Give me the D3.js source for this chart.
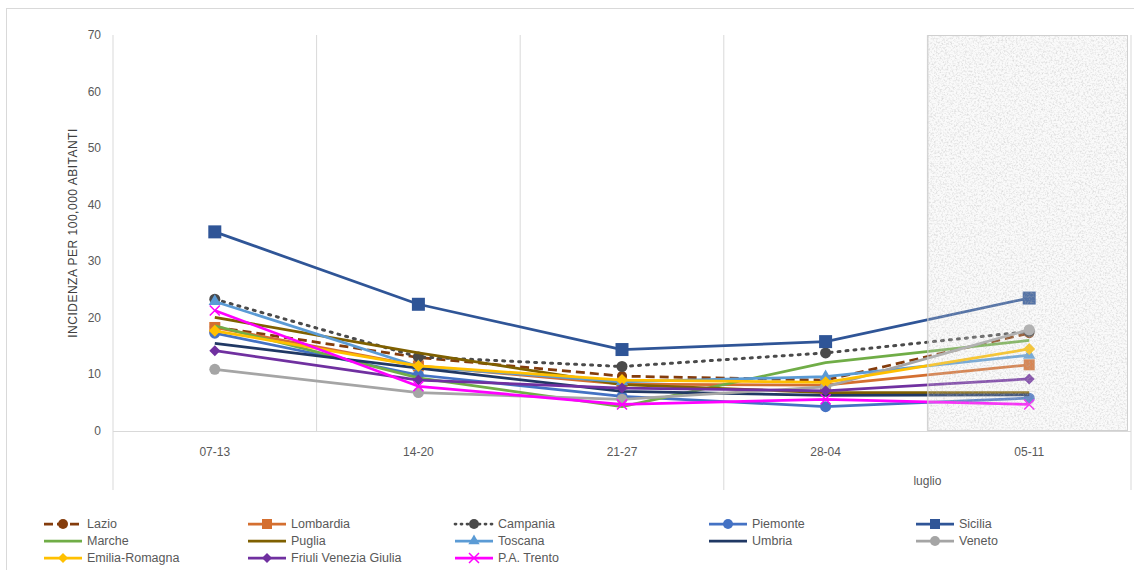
<!DOCTYPE html>
<html><head><meta charset="utf-8">
<script src="https://cdn.jsdelivr.net/npm/d3@7"></script>
<style>html,body{margin:0;padding:0;background:#fff;}svg{display:block;font-family:"Liberation Sans",Arial,sans-serif;}</style>
</head><body>
<svg id="c" width="1134" height="570"></svg>
<script>
const categories = ["07-13","14-20","21-27","28-04","05-11"];
const yTicks = [0,10,20,30,40,50,60,70];
const groupLabel = "luglio";
const yTitle = "INCIDENZA  PER 100,000 ABITANTI";

const regions = ["Lazio","Lombardia","Campania","Piemonte","Sicilia","Marche","Puglia","Toscana","Umbria","Veneto","Emilia-Romagna","Friuli Venezia Giulia","P.A. Trento"];
const lazio      = [18.4, 13.0, 9.7, 9.0, 17.3];
const lombardia  = [18.3, 11.5, 8.3, 8.1, 11.7];
const campania   = [23.3, 13.1, 11.4, 13.8, 17.6];
const piemonte   = [17.3, 9.9, 6.1, 4.3, 5.8];
const sicilia    = [35.2, 22.4, 14.4, 15.8, 23.5];
const marche     = [18.6, 9.4, 4.3, 12.1, 16.0];
const puglia     = [20.1, 13.8, 8.2, 6.8, 6.8];
const toscana    = [22.9, 11.4, 8.7, 9.6, 13.4];
const umbria     = [15.5, 11.1, 7.0, 6.3, 6.4];
const veneto     = [10.9, 6.8, 5.6, 7.8, 17.9];
const emilia     = [17.7, 11.5, 9.0, 8.6, 14.5];
const friuli     = [14.2, 9.0, 7.6, 7.1, 9.2];
const trento     = [21.3, 7.9, 4.7, 5.6, 4.7];
const seriesValues = [lazio,lombardia,campania,piemonte,sicilia,marche,puglia,toscana,umbria,veneto,emilia,friuli,trento];

const styles = {
  "Lazio":{c:"#843c0c",dash:"9,5",m:"circle",s:10},
  "Lombardia":{c:"#d46f30",m:"square",s:11},
  "Campania":{c:"#4a4a4a",dash:"2,6",cap:"round",m:"circle",s:11},
  "Piemonte":{c:"#4472c4",m:"circle",s:11},
  "Sicilia":{c:"#2f5597",m:"square",s:13},
  "Marche":{c:"#70ad47",m:null},
  "Puglia":{c:"#7f6000",m:null},
  "Toscana":{c:"#5b9bd5",m:"triangle",s:11},
  "Umbria":{c:"#203864",m:null},
  "Veneto":{c:"#a5a5a5",m:"circle",s:11},
  "Emilia-Romagna":{c:"#ffc000",m:"diamond",s:12},
  "Friuli Venezia Giulia":{c:"#7030a0",m:"diamond",s:11},
  "P.A. Trento":{c:"#ff00ff",m:"x",s:10}
};

const svg = d3.select("#c");
const L=113, R=1131, T=35, B=431;
const x = d3.scaleBand().domain(categories).range([L,R]).padding(0);
const y = d3.scaleLinear().domain([0,70]).range([B,T]);
const cx = c => x(c)+x.bandwidth()/2;

// outer border
svg.append("rect").attr("x",6.5).attr("y",8.5).attr("width",1140).attr("height",580).attr("fill","none").attr("stroke","#d9d9d9");

// defs: noise texture
const defs = svg.append("defs");
const f = defs.append("filter").attr("id","noise").attr("x",0).attr("y",0).attr("width","100%").attr("height","100%");
f.append("feTurbulence").attr("type","fractalNoise").attr("baseFrequency",0.55).attr("numOctaves",3).attr("seed",7).attr("result","t");
f.append("feColorMatrix").attr("in","t").attr("type","matrix")
 .attr("values","0 0 0 0 0.45  0 0 0 0 0.45  0 0 0 0 0.45  2.2 0 0 0 -0.95").attr("result","n");
f.append("feComposite").attr("in","n").attr("in2","SourceGraphic").attr("operator","in");

// vertical gridlines (category boundaries)
const bounds = categories.slice(1).map(c=>x(c));
svg.append("g").selectAll("line").data(bounds).join("line")
  .attr("x1",d=>d).attr("x2",d=>d).attr("y1",T).attr("y2",B)
  .attr("stroke","#d9d9d9").attr("stroke-width",1);
// axis left line
svg.append("line").attr("x1",L).attr("x2",L).attr("y1",T).attr("y2",490).attr("stroke","#d9d9d9");
// divider for group and right border
svg.append("line").attr("x1",x("28-04")).attr("x2",x("28-04")).attr("y1",B).attr("y2",490).attr("stroke","#d9d9d9");
svg.append("line").attr("x1",R).attr("x2",R).attr("y1",T).attr("y2",490).attr("stroke","#d9d9d9");
svg.append("line").attr("x1",L).attr("x2",R).attr("y1",B+0.5).attr("y2",B+0.5).attr("stroke","#d9d9d9");

// y tick labels
svg.append("g").selectAll("text").data(yTicks).join("text")
  .attr("x",101).attr("y",d=>y(d)+4).attr("text-anchor","end")
  .attr("font-size",12).attr("fill","#595959").text(d=>d);
// y title
svg.append("text").attr("transform",`translate(77,${(T+B)/2}) rotate(-90)`)
  .attr("text-anchor","middle").attr("font-size",12).attr("letter-spacing",0.5).attr("fill","#404040").text(yTitle);

// x labels
svg.append("g").selectAll("text").data(categories).join("text")
  .attr("x",d=>cx(d)).attr("y",456).attr("text-anchor","middle")
  .attr("font-size",12).attr("fill","#595959").text(d=>d);
svg.append("text").attr("x",(x("28-04")+R)/2).attr("y",485).attr("text-anchor","middle")
  .attr("font-size",12).attr("fill","#595959").text(groupLabel);

function marker(g, type, s, color){
  if(!type) return;
  if(type==="circle") g.append("circle").attr("r",s/2).attr("fill",color);
  else if(type==="square") g.append("rect").attr("x",-s/2).attr("y",-s/2).attr("width",s).attr("height",s).attr("fill",color);
  else if(type==="triangle") g.append("path").attr("d",d3.symbol(d3.symbolTriangle, s*s*0.55)()).attr("fill",color);
  else if(type==="diamond") g.append("path").attr("d",`M0,${-s/2}L${s/2},0L0,${s/2}L${-s/2},0Z`).attr("fill",color);
  else if(type==="x") g.append("path").attr("d",`M${-s/2},${-s/2}L${s/2},${s/2}M${-s/2},${s/2}L${s/2},${-s/2}`).attr("stroke",color).attr("stroke-width",1.5).attr("fill","none");
}

const line = d3.line().x((d,i)=>cx(categories[i])).y(d=>y(d));
const plot = svg.append("g");
regions.forEach((r,k)=>{
  const st = styles[r];
  const vals = seriesValues[k];
  plot.append("path").attr("d",line(vals)).attr("fill","none")
    .attr("stroke",st.c).attr("stroke-width",st.dash&&st.cap?3:2.75)
    .attr("stroke-dasharray",st.dash||null).attr("stroke-linecap",st.cap||"butt")
    .attr("stroke-linejoin","round");
  vals.forEach((v,i)=>{
    const g = plot.append("g").attr("transform",`translate(${cx(categories[i])},${y(v)})`);
    marker(g, st.m, st.s, st.c);
  });
});

// shaded overlay for last week
const sx = x("05-11");
svg.append("rect").attr("x",sx).attr("y",T).attr("width",R-sx-3).attr("height",B-T)
  .attr("fill","#e4e4e4").attr("opacity",0.2);
svg.append("rect").attr("x",sx).attr("y",T).attr("width",R-sx-3).attr("height",B-T)
  .attr("fill","#ffffff").attr("filter","url(#noise)").attr("opacity",0.45);
svg.append("rect").attr("x",sx+0.5).attr("y",T+0.5).attr("width",R-sx-4).attr("height",B-T-1)
  .attr("fill","none").attr("stroke","#d0d0d0").attr("stroke-width",1);

// legend
const colX = [44,248,455,709,916];
const rowY = [524,541,558];
const lg = svg.append("g");
regions.forEach((r,k)=>{
  const st = styles[r];
  const col = k%5, row = Math.floor(k/5);
  const x0 = colX[col], y0 = rowY[row];
  const g = lg.append("g").attr("transform",`translate(${x0},${y0})`);
  g.append("line").attr("x1",0).attr("x2",38).attr("y1",0).attr("y2",0)
    .attr("stroke",st.c).attr("stroke-width",2.75)
    .attr("stroke-dasharray",st.dash? (st.cap?"1,5":"9,4"):null).attr("stroke-linecap",st.cap||"butt");
  const mg = g.append("g").attr("transform","translate(19,0)");
  marker(mg, st.m, Math.min(st.s,10), st.c);
  g.append("text").attr("x",43).attr("y",4).attr("font-size",12.5).attr("fill","#595959").text(r);
});
</script>
</body></html>
